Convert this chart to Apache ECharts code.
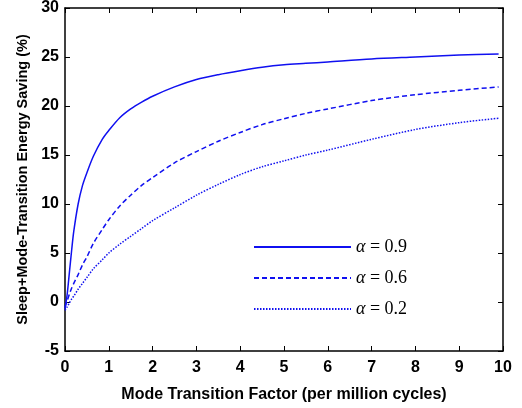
<!DOCTYPE html>
<html>
<head>
<meta charset="utf-8">
<script src="https://cdn.jsdelivr.net/npm/echarts@6/dist/echarts.min.js"></script>
<style>html,body{margin:0;padding:0;background:#fff}#c{width:522px;height:408px}</style>
</head>
<body>
<div id="c"></div>
<script>
// === data ===
const xs=[0,0.05,0.1,0.15,0.2,0.3,0.4,0.5,0.65,0.85,1,1.25,1.5,1.75,2,2.5,3,3.5,4,4.5,5,5.5,6,7,8,9,9.9];
const a09=[-0.7,0.8,3.0,5.2,7.2,10.0,11.9,13.2,14.9,16.6,17.5,18.8,19.7,20.4,21.0,21.95,22.7,23.2,23.6,23.95,24.2,24.35,24.5,24.8,25.0,25.2,25.3];
const a06=[-0.5,0.1,0.8,1.4,1.9,2.8,3.8,4.6,6.0,7.4,8.4,9.8,10.9,11.9,12.7,14.2,15.35,16.4,17.3,18.1,18.7,19.25,19.7,20.55,21.15,21.6,21.95];
const a02=[-0.85,-0.5,-0.1,0.3,0.6,1.3,1.9,2.5,3.4,4.3,5.0,5.9,6.7,7.5,8.3,9.6,10.9,12.0,13.0,13.8,14.4,15.0,15.5,16.6,17.6,18.3,18.75];
const names=['0.9','0.6','0.2'];
const dashes=['solid',[5,3],[1.5,1.5]];

const BLUE='#1010f0';
const F='"Liberation Sans",Arial,sans-serif';
function pts(ys){return xs.map((x,i)=>[x,ys[i]])}

const chart=echarts.init(document.getElementById('c'),null,{renderer:'canvas'});
const series=[a09,a06,a02].map((ys,i)=>({
  name:names[i],type:'line',data:pts(ys),showSymbol:false,symbol:'none',smooth:0.3,
  lineStyle:{color:BLUE,width:1.5,type:dashes[i]},itemStyle:{color:BLUE},animation:false
}));

const axLine={show:true,onZero:false,lineStyle:{color:'#000',width:1.5}};
const tick={inside:true,length:5,lineStyle:{color:'#000'}};
chart.setOption({
  backgroundColor:'#fff',
  grid:{left:65,right:19,top:6,bottom:55},
  legend:{
    orient:'vertical',left:248,top:233,itemWidth:97,itemHeight:12,itemGap:13,
    data:names,itemStyle:{opacity:0},
    formatter:n=>'{a|α} = '+n,
    textStyle:{fontFamily:'"Liberation Serif","Times New Roman",serif',fontSize:18,color:'#000',
      rich:{a:{fontStyle:'italic',fontFamily:'"Liberation Serif",serif',fontSize:18,color:'#000'}}}
  },
  xAxis:[{
    type:'value',min:0,max:10,interval:1,
    name:'Mode Transition Factor (per million cycles)',nameLocation:'middle',nameGap:36,
    nameTextStyle:{fontFamily:F,fontWeight:'bold',fontSize:16,color:'#000'},
    axisLine:axLine,axisTick:tick,
    axisLabel:{fontFamily:F,fontWeight:'bold',fontSize:16,color:'#000',margin:9},
    splitLine:{show:false}
  },{
    type:'value',min:0,max:10,interval:1,position:'top',
    axisLine:axLine,axisTick:tick,
    axisLabel:{show:false},splitLine:{show:false}
  }],
  yAxis:[{
    type:'value',min:-5,max:30,interval:5,
    name:'Sleep+Mode-Transition Energy Saving (%)',nameLocation:'middle',nameGap:31,
    nameTextStyle:{fontFamily:F,fontWeight:'bold',fontSize:14.5,color:'#000'},
    axisLine:axLine,axisTick:tick,
    axisLabel:{fontFamily:F,fontWeight:'bold',fontSize:16,color:'#000',margin:6},
    splitLine:{show:false}
  },{
    type:'value',min:-5,max:30,interval:5,position:'right',
    axisLine:axLine,axisTick:tick,
    axisLabel:{show:false},splitLine:{show:false}
  }],
  series:series
});
</script>
</body>
</html>
